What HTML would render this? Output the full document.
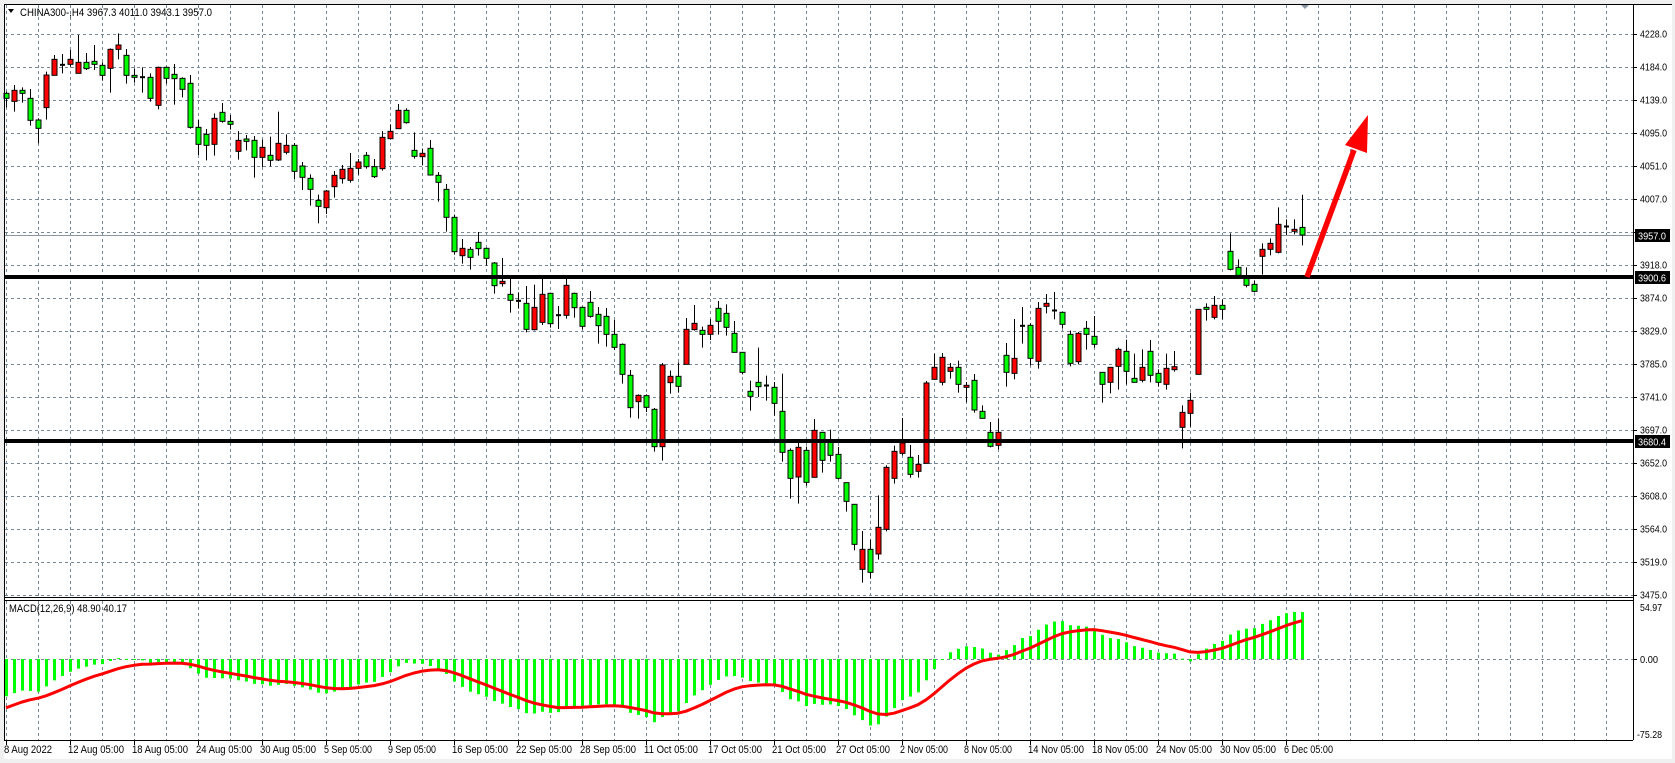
<!DOCTYPE html>
<html><head><meta charset="utf-8"><style>
html,body{margin:0;padding:0;background:#fff;}
svg{display:block;font-family:"Liberation Sans",sans-serif;font-size:11px;}
</style></head><body>
<svg id="s" width="1675" height="763" viewBox="0 0 1675 763" xmlns="http://www.w3.org/2000/svg">
<rect x="0" y="0" width="1675" height="763" fill="#f0f0f0"/>
<rect x="4" y="4" width="1668" height="755" fill="#fff"/>
<g id="grid" stroke="#778899" stroke-width="1" stroke-dasharray="3,3" fill="none"></g>
<line x1="4" y1="235.5" x2="1633" y2="235.5" stroke="#8a96a3" stroke-width="1"/>
<g id="candles"></g>
<rect x="4" y="275" width="1629" height="4" fill="#000"/>
<rect x="4" y="439" width="1629" height="4" fill="#000"/>
<g id="macd"></g>
<line x1="1307" y1="277" x2="1354" y2="150" stroke="#ff0000" stroke-width="5.5"/>
<polygon points="1368,115 1345,145 1367,153" fill="#ff0000"/>
<polygon points="1300,4 1310,4 1305,9" fill="#8a96a3"/>
<g stroke="#000" stroke-width="1" fill="none">
<line x1="4.5" y1="4" x2="4.5" y2="740"/>
<line x1="4" y1="4.5" x2="1672" y2="4.5"/>
<line x1="1633.5" y1="4" x2="1633.5" y2="740"/>
<line x1="4" y1="597.5" x2="1633" y2="597.5"/>
<line x1="4" y1="600.5" x2="1633" y2="600.5"/>
<line x1="4" y1="740.5" x2="1633" y2="740.5"/>
</g>
<g id="ticks" stroke="#000" stroke-width="1"></g>
<g fill="#000" font-size="10.5">
<text x="1640" y="37.7" textLength="27" lengthAdjust="spacingAndGlyphs">4228.0</text>
<text x="1640" y="70.7" textLength="27" lengthAdjust="spacingAndGlyphs">4184.0</text>
<text x="1640" y="103.7" textLength="27" lengthAdjust="spacingAndGlyphs">4139.0</text>
<text x="1640" y="136.7" textLength="27" lengthAdjust="spacingAndGlyphs">4095.0</text>
<text x="1640" y="169.7" textLength="27" lengthAdjust="spacingAndGlyphs">4051.0</text>
<text x="1640" y="202.7" textLength="27" lengthAdjust="spacingAndGlyphs">4007.0</text>
<text x="1640" y="268.7" textLength="27" lengthAdjust="spacingAndGlyphs">3918.0</text>
<text x="1640" y="301.7" textLength="27" lengthAdjust="spacingAndGlyphs">3874.0</text>
<text x="1640" y="334.7" textLength="27" lengthAdjust="spacingAndGlyphs">3829.0</text>
<text x="1640" y="367.7" textLength="27" lengthAdjust="spacingAndGlyphs">3785.0</text>
<text x="1640" y="400.7" textLength="27" lengthAdjust="spacingAndGlyphs">3741.0</text>
<text x="1640" y="433.7" textLength="27" lengthAdjust="spacingAndGlyphs">3697.0</text>
<text x="1640" y="466.7" textLength="27" lengthAdjust="spacingAndGlyphs">3652.0</text>
<text x="1640" y="499.7" textLength="27" lengthAdjust="spacingAndGlyphs">3608.0</text>
<text x="1640" y="532.7" textLength="27" lengthAdjust="spacingAndGlyphs">3564.0</text>
<text x="1640" y="565.7" textLength="27" lengthAdjust="spacingAndGlyphs">3519.0</text>
<text x="1640" y="598.7" textLength="27" lengthAdjust="spacingAndGlyphs">3475.0</text>
<text x="1640" y="611" textLength="22" lengthAdjust="spacingAndGlyphs">54.97</text>
<text x="1640" y="663" textLength="18" lengthAdjust="spacingAndGlyphs">0.00</text>
<text x="1637" y="738" textLength="25" lengthAdjust="spacingAndGlyphs">-75.28</text>
</g>
<g font-size="10.5">
<rect x="1635" y="229" width="35" height="13" fill="#000"/>
<text x="1638" y="239.5" fill="#fff" textLength="28" lengthAdjust="spacingAndGlyphs">3957.0</text>
<rect x="1635" y="271" width="35" height="13" fill="#000"/>
<text x="1638" y="281.5" fill="#fff" textLength="28" lengthAdjust="spacingAndGlyphs">3900.6</text>
<rect x="1635" y="435" width="35" height="13" fill="#000"/>
<text x="1638" y="445.5" fill="#fff" textLength="28" lengthAdjust="spacingAndGlyphs">3680.4</text>
</g>
<polygon points="8,9 14,9 11,13" fill="#000"/>
<text x="20" y="16" fill="#000" textLength="192" lengthAdjust="spacingAndGlyphs">CHINA300-,H4  3967.3 4011.0 3943.1 3957.0</text>
<text x="9" y="612" fill="#000" textLength="118" lengthAdjust="spacingAndGlyphs">MACD(12,26,9) 48.90 40.17</text>
<g fill="#000">
<text x="4" y="753" textLength="48" lengthAdjust="spacingAndGlyphs">8 Aug 2022</text>
<text x="68" y="753" textLength="56" lengthAdjust="spacingAndGlyphs">12 Aug 05:00</text>
<text x="132" y="753" textLength="56" lengthAdjust="spacingAndGlyphs">18 Aug 05:00</text>
<text x="196" y="753" textLength="56" lengthAdjust="spacingAndGlyphs">24 Aug 05:00</text>
<text x="260" y="753" textLength="56" lengthAdjust="spacingAndGlyphs">30 Aug 05:00</text>
<text x="324" y="753" textLength="48" lengthAdjust="spacingAndGlyphs">5 Sep 05:00</text>
<text x="388" y="753" textLength="48" lengthAdjust="spacingAndGlyphs">9 Sep 05:00</text>
<text x="452" y="753" textLength="56" lengthAdjust="spacingAndGlyphs">16 Sep 05:00</text>
<text x="516" y="753" textLength="56" lengthAdjust="spacingAndGlyphs">22 Sep 05:00</text>
<text x="580" y="753" textLength="56" lengthAdjust="spacingAndGlyphs">28 Sep 05:00</text>
<text x="644" y="753" textLength="54" lengthAdjust="spacingAndGlyphs">11 Oct 05:00</text>
<text x="708" y="753" textLength="54" lengthAdjust="spacingAndGlyphs">17 Oct 05:00</text>
<text x="772" y="753" textLength="54" lengthAdjust="spacingAndGlyphs">21 Oct 05:00</text>
<text x="836" y="753" textLength="54" lengthAdjust="spacingAndGlyphs">27 Oct 05:00</text>
<text x="900" y="753" textLength="48" lengthAdjust="spacingAndGlyphs">2 Nov 05:00</text>
<text x="964" y="753" textLength="48" lengthAdjust="spacingAndGlyphs">8 Nov 05:00</text>
<text x="1028" y="753" textLength="56" lengthAdjust="spacingAndGlyphs">14 Nov 05:00</text>
<text x="1092" y="753" textLength="56" lengthAdjust="spacingAndGlyphs">18 Nov 05:00</text>
<text x="1156" y="753" textLength="56" lengthAdjust="spacingAndGlyphs">24 Nov 05:00</text>
<text x="1220" y="753" textLength="56" lengthAdjust="spacingAndGlyphs">30 Nov 05:00</text>
<text x="1284" y="753" textLength="49" lengthAdjust="spacingAndGlyphs">6 Dec 05:00</text>
</g>
</svg>
<script>
(function(){
var NS="http://www.w3.org/2000/svg";
function el(p,t,a){var e=document.createElementNS(NS,t);for(var k in a)e.setAttribute(k,a[k]);p.appendChild(e);return e;}
var grid=document.getElementById('grid'),ticks=document.getElementById('ticks');
for(var k=0;k<18;k++){var y=Math.round(33.7+33*k)+0.5;el(grid,'line',{x1:5,y1:y,x2:1633,y2:y});el(ticks,'line',{x1:1633,y1:y,x2:1637,y2:y});}
for(var x=5.67;x<1633;x+=32){var xx=Math.round(x)+0.5;el(grid,'line',{x1:xx,y1:5,x2:xx,y2:597});el(grid,'line',{x1:xx,y1:601,x2:xx,y2:740});}
for(var j=0;j<21;j++){var xx=Math.round(5.67+64*j)+0.5;el(ticks,'line',{x1:xx,y1:740,x2:xx,y2:745});}
el(grid,'line',{x1:5,y1:659.5,x2:1633,y2:659.5});
el(ticks,'line',{x1:1633,y1:659.5,x2:1637,y2:659.5});
var G=[[20,[
['g',220,235,215,262],['r',211,244,195,275],['g',211,220,202,248],['g',235,301,207,317],['g',300,325,295,370],
['r',165,263,155,299],['r',118,166,105,166],['d',133,136,102,160],['r',118,133,90,140],['r',127,160,45,160],
['g',127,146,99,150],['g',124,133,75,150],['g',136,166,127,182],['r',88,145,85,218],['r',75,88,40,118],
['g',106,166,87,191],['g',166,172,145,188],['d',170,172,142,218],['g',172,235,160,245],['r',142,256,140,268],
['g',142,175,140,191],['g',163,176,132,254],['g',175,208,172,232],['g',190,322,165,326],['g',322,373,300,405],
['g',343,376,327,421],['r',295,373,280,407],['g',277,304,249,308],['g',304,313,285,329],['r',361,394,333,419],
['g',357,364,345,391],['g',361,412,348,473],['r',382,412,359,441],['g',406,421,350,439],['r',370,420,275,423],
['r',376,397,343,403],['g',376,454,369,477],['g',438,472,426,510],['g',475,508,463,557],['g',541,559,524,610]]],
[80,[
['r',333,383,330,402],['r',286,320,273,353],['r',268,296,255,311],['r',265,301,219,308],['r',246,265,237,284],
['g',226,260,216,266],['g',260,290,237,294],['r',172,266,153,272],['r',154,176,133,176],['r',91,146,72,146],
['g',91,128,85,131],['g',211,229,157,236],['r',220,230,206,256],['g',205,285,180,287],['g',286,307,276,365],
['g',328,412,312,455],['g',412,515,404,524],['r',505,527,477,551],['g',508,532,501,569],['g',487,506,456,527],
['g',505,535,503,557],['g',549,617,546,641],['r',604,611,534,620],['g',643,661,595,698],['d',661,663,637,686],
['g',670,748,618,757],['r',682,749,614,751],['r',643,727,596,735],['g',640,731,638,743],['d',704,706,678,747],
['r',616,706,596,716],['g',640,683,638,713],['g',682,739,680,748],['g',667,709,633,713],['g',703,737,681,791],
['g',709,763,684,800],['g',763,802,720,810],['g',793,883,790,911],['g',886,983,870,1013],['r',946,965,943,1016]]],
[200,[
['g',587,622,583,636],['g',628,740,624,755],['r',495,740,489,782],['r',529,548,512,581],['g',529,559,487,578],
['r',388,493,354,493],['r',370,389,315,392],['g',391,403,380,443],['r',376,403,357,420],['g',325,364,303,404],
['g',340,382,313,407],['g',400,457,363,457],['g',457,517,457,523],['g',574,589,542,632],['g',547,560,443,591],
['d',555,557,527,602],['g',562,610,546,647],['g',634,757,521,785],['g',751,835,745,896],['r',742,831,726,911],
['g',751,847,740,857],['r',691,832,657,832],['g',697,781,697,818],['g',725,766,689,785],['g',763,835,741,838],
['g',848,904,848,935],['g',913,1033,913,1051],['r',1048,1108,993,1148],['g',1048,1117,1018,1136],['r',982,1062,886,1079],
['r',802,988,796,994],['r',754,835,737,851],['r',729,760,654,766],['g',772,823,735,833],['r',793,814,765,833],
['r',549,790,543,790],['r',502,538,461,538],['r',472,547,459,556],['r',502,514,489,536],['g',502,553,482,578]]],
[180,[
['r',616,622,606,667],['g',601,690,582,698],['g',694,715,676,715],['g',757,799,726,802],['r',757,796,715,808],
['g',526,577,489,620],['r',535,580,417,598],['d',436,439,381,491],['g',436,535,430,556],['r',385,544,366,566],
['r',370,379,342,400],['d',390,391,336,418],['g',397,433,397,446],['g',463,550,452,559],['r',460,545,456,553],
['g',445,463,423,509],['g',469,493,408,503],['g',577,613,577,668],['r',562,607,562,640],['r',508,559,503,629],
['g',514,574,479,613],['g',595,607,521,607],['r',562,601,508,607],['g',514,586,480,607],['g',580,607,568,620],
['r',565,613,521,629],['r',560,569,513,575],['r',697,742,676,805],['r',661,700,638,740],['r',388,583,388,583],
['g',382,388,370,422],['r',376,412,348,418],['g',376,388,358,418],['g',214,268,160,271],['g',262,286,238,286],
['g',295,316,262,322],['g',313,334,301,337],['r',208,229,190,284],['r',190,208,175,226],['r',133,217,82,220],
['d',138,140,118,165],['r',148,154,118,163]]]];
var C=[];
G.forEach(function(g){g[1].forEach(function(c){C.push([c[0],g[0]+c[1]/3,g[0]+c[2]/3,g[0]+c[3]/3,g[0]+c[4]/3]);});});
C.push(['g',227.4,235,194.8,245.4]);
var cg=document.getElementById('candles');
var closes=[];
C.forEach(function(c,i){
 var cx=Math.round(5.67+8*i);
 el(cg,'line',{x1:cx+0.5,y1:c[3],x2:cx+0.5,y2:c[4],stroke:'#000','stroke-width':1});
 if(c[0]==='d'){el(cg,'rect',{x:cx-2,y:c[1]-0.5,width:5,height:2,fill:'#000'});}
 else{var h=Math.max(c[2]-c[1],2);el(cg,'rect',{x:cx-2,y:c[1],width:5,height:h,fill:c[0]==='r'?'#ff0000':'#00ff00',stroke:'#000','stroke-width':1});}
 var yc=(c[0]==='g')?c[2]:c[1];
 closes.push(3475+(594-yc)/0.7447);
});
var a12=2/13,a26=2/27,a9=0.2;
var e12=closes[0]+5,e26=closes[0]+44,sig=-51;
var mg=document.getElementById('macd');var pts=[];
closes.forEach(function(p,i){
 if(i>0){e12+=a12*(p-e12);e26+=a26*(p-e26);}
 var m=e12-e26; if(i>0) sig+=a9*(m-sig);
 var cx=Math.round(5.67+8*i);
 var y=659-m*0.957;
 el(mg,'rect',{x:cx-1,y:Math.min(y,659),width:3,height:Math.max(Math.abs(y-659),1),fill:'#00ff00'});
 pts.push(cx+','+(659-sig*0.957).toFixed(1));
});
el(mg,'polyline',{points:pts.join(' '),fill:'none',stroke:'#ff0000','stroke-width':3,'stroke-linejoin':'round'});
})();
</script>
</body></html>
